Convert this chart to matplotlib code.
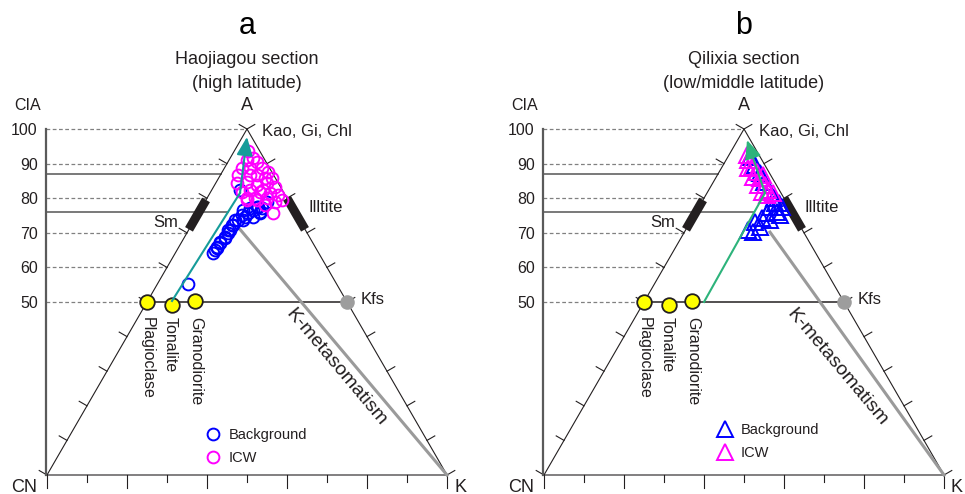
import matplotlib.pyplot as plt
import numpy as np

plt.rcParams['font.family'] = ['Liberation Sans', 'DejaVu Sans']

W, H = 965, 494
ink = '#231f20'

# CIA axis and reference lines (A in %)
tick_cia = [50, 60, 70, 80, 90, 100]
stage_cia = [87, 76]
sm_cia = [71, 79.5]      # smectite bar on the A-CN edge
ill_cia = [71, 80]       # illite bar on the A-K edge

# reference rocks, as (A, K) in %
rock_names = ['Plagioclase', 'Tonalite', 'Granodiorite']
rock_A = [50, 49.1, 50.4]
rock_K = [0, 6.7, 11.8]
kfs_A, kfs_K = 50, 50

# panel a, Haojiagou: Background circles
bg_a_A = [55.2, 64.1, 65.0, 65.5, 66.0, 67.0, 67.4, 68.4, 68.9, 69.9, 70.8, 70.8,
          72.3, 72.3, 73.7, 73.7, 73.7, 74.7, 74.7, 75.1, 75.6, 75.6, 76.1, 76.6,
          76.6, 77.1, 77.1, 77.5, 77.6, 79.0, 82.4]
bg_a_K = [7.6, 9.55, 9.5, 9.65, 9.4, 9.75, 9.55, 10.3, 10.05, 10.4, 10.35, 9.9,
          10.4, 10.0, 11.0, 12.2, 10.15, 12.1, 14.2, 11.1, 12.5, 15.4, 15.2, 13.3,
          10.8, 15.1, 12.2, 13.7, 14.0, 15.4, 7.05]
# panel a: ICW circles
icw_a_A = [93.6, 91.5, 91.0, 90.6, 88.6, 88.6, 88.6, 87.7, 86.7, 86.7, 85.75, 84.3,
           84.8, 83.8, 84.3, 83.3, 81.9, 82.4, 81.9, 81.4, 80.9, 79.5, 79.5, 80.0,
           79.0, 79.5, 78.0, 75.6, 86.7, 85.75, 82.4, 80.0, 80.0]
icw_a_K = [3.5, 5.85, 4.4, 7.1, 4.4, 6.45, 9.4, 11.45, 4.45, 9.05, 13.3, 5.25,
           7.5, 10.5, 12.75, 15.35, 7.75, 9.55, 12.3, 15.05, 17.35, 10.15, 12.65, 14.9,
           17.5, 19.05, 15.5, 18.8, 7.4, 11.6, 12.9, 12.0, 9.9]

# panel b, Qilixia: Background triangles
bg_b_A = [92.0, 89.6, 87.2, 84.8, 82.4, 80.0, 78.5, 77.5, 78.5, 77.5, 76.1, 75.6,
          74.2, 73.7, 73.2, 71.8, 70.8, 70.3, 75.1]
bg_b_K = [5.5, 7.9, 10.3, 12.7, 15.1, 17.5, 19.5, 20.65, 18.5, 17.75, 20.1, 17.9,
          17.3, 19.65, 16.15, 18.1, 15.7, 17.15, 21.5]
# panel b: ICW triangles
icw_b_A = [92.5, 91.0, 89.1, 88.6, 87.7, 86.2, 86.7, 85.75, 83.8, 83.8, 82.4, 81.9,
           81.4, 80.9]
icw_b_K = [4.5, 5.6, 7.35, 6.8, 9.35, 9.2, 11.45, 11.1, 11.7, 13.35, 14.9, 13.45,
           16.6, 15.25]

# weathering trend arrows (start, bend, tip) and K-metasomatism start, as (A, K)
trend_a = [(50.3, 6.1), (81.5, 7.5), (97.7, 1.15)]
trend_b = [(50, 15.0), (81.5, 14.5), (96.8, 2.35)]
kmeta_a = (71, 12.75)
kmeta_b = (70.2, 21.4)

SX, SY = 4.0, 3.46   # pixels per % along the base / along the height


def xy(A, K):
    A = np.asarray(A, float)
    K = np.asarray(K, float)
    return K + A / 2, A


def ftxt(px, py, s, **kw):
    kw.setdefault('color', ink)
    fig.text(px / W, 1 - py / H, s, **kw)


fig = plt.figure(figsize=(W / 100, H / 100), dpi=100)


def panel(left, right, cn_px, bg, icw, marker, ms, trend, kmeta, arrow_col):
    ax = fig.add_axes([left / W, 0, (right - left) / W, 1])
    ax.set_xlim((left - cn_px) / SX, (right - cn_px) / SX)
    ax.set_ylim((475 - H) / SY, 475 / SY)
    for s in ['top', 'right', 'bottom']:
        ax.spines[s].set_visible(False)
    ax.spines['left'].set_position(('data', -0.25))
    ax.spines['left'].set_bounds(0, 100)
    ax.spines['left'].set_color('#5a5a5a')
    ax.spines['left'].set_linewidth(1.6)
    ax.set_xticks([])
    ax.set_yticks(tick_cia)
    ax.tick_params(axis='y', length=0, pad=6, labelsize=11.5, labelcolor=ink)
    ax.patch.set_alpha(0)

    # triangle and ticks
    ax.plot([0, 100, 50, 0], [0, 0, 100, 0], color=ink, lw=0.8, zorder=2)
    for v in range(0, 101, 10):
        L = 13 if v % 20 == 0 else 7
        ax.plot([v, v], [0, -L / SY], color=ink, lw=0.8)
        Lt = 9
        ax.plot([v / 2, v / 2 - 0.866 * Lt / SX], [v, v + 0.5 * Lt / SY], color=ink, lw=0.8)
        ax.plot([100 - v / 2, 100 - v / 2 + 0.866 * Lt / SX], [v, v + 0.5 * Lt / SY],
                color=ink, lw=0.8)

    # CIA guide lines
    for c in tick_cia:
        ax.plot([-0.25, c / 2], [c, c], ls=(0, (3, 2)), color='#808080', lw=0.9, zorder=1)
    tx, ty = xy([p[0] for p in trend], [p[1] for p in trend])
    end76 = np.interp(stage_cia[1], ty[:2], tx[:2])
    ax.plot([-0.25, stage_cia[0] / 2], [stage_cia[0]] * 2, color='#6e6e6e', lw=1.3, zorder=1)
    ax.plot([-0.25, end76], [stage_cia[1]] * 2, color='#6e6e6e', lw=1.3, zorder=1)

    # Sm and Illite bars
    ax.plot(*xy(sm_cia, [0, 0]), color=ink, lw=6.5, solid_capstyle='butt', zorder=3)
    ax.plot(*xy(ill_cia, [100 - a for a in ill_cia]), color=ink, lw=6.5,
            solid_capstyle='butt', zorder=3)

    # plagioclase - Kfs join and K-metasomatism line
    p0 = xy(rock_A[0], rock_K[0])
    pk = xy(kfs_A, kfs_K)
    ax.plot([p0[0], pk[0]], [p0[1], pk[1]], color=ink, lw=1.1, zorder=2)
    km = xy(*kmeta)
    ax.plot([km[0], 100], [km[1], 0], color='#9a9a9a', lw=2.2, zorder=2)

    # samples
    bx, by = xy(*bg)
    h1, = ax.plot(bx, by, marker, ls='none', ms=ms, mfc='none', mec='#0000ff', mew=1.4,
                  label='Background', zorder=4)
    ix, iy = xy(*icw)
    h2, = ax.plot(ix, iy, marker, ls='none', ms=ms, mfc='none', mec='#ff00ff', mew=1.4,
                  label='ICW', zorder=4)

    # reference rocks
    rx, ry = xy(rock_A, rock_K)
    ax.plot(rx, ry, 'o', ls='none', ms=10.5, mfc='#ffff00', mec=ink, mew=1.3, zorder=5)
    ax.plot(pk[0], pk[1], 'o', ms=10.5, mfc='#9d9d9d', mec='none', zorder=5)

    # trend arrow
    ax.plot(tx[:2], ty[:2], color=arrow_col, lw=1.5, zorder=6)
    ax.annotate('', xy=(tx[2], ty[2]), xytext=(tx[1], ty[1]),
                arrowprops=dict(arrowstyle='-|>,head_length=0.8,head_width=0.35',
                                color=arrow_col, lw=1.5, shrinkA=0, shrinkB=0,
                                mutation_scale=14), zorder=6)
    return ax, [h1, h2]


ax_a, hands_a = panel(0, 482, 47, (bg_a_A, bg_a_K), (icw_a_A, icw_a_K), 'o', 8.5,
                      trend_a, kmeta_a, '#169c9a')
ax_b, hands_b = panel(482, 965, 544, (bg_b_A, bg_b_K), (icw_b_A, icw_b_K), '^', 11,
                      trend_b, kmeta_b, '#2db37b')

for ax, hands, lx, ly in [(ax_a, hands_a, 205.5, 428), (ax_b, hands_b, 717.5, 423)]:
    ax.legend(handles=hands, loc='upper left', bbox_to_anchor=(lx / W, 1 - ly / H),
              bbox_transform=fig.transFigure, frameon=False, fontsize=10.5,
              handlelength=1.0, handletextpad=0.6, labelspacing=0.65, borderpad=0,
              borderaxespad=0, labelcolor=ink)

# texts, placed in pixels
for cx, letter, l1, l2 in [(247, 'a', 'Haojiagou section', '(high latitude)'),
                           (744, 'b', 'Qilixia section', '(low/middle latitude)')]:
    off = cx - 247
    ftxt(cx, 26, letter, fontsize=22, ha='center', va='center', color='black')
    ftxt(cx, 60, l1, fontsize=13, ha='center', va='center')
    ftxt(cx, 83, l2, fontsize=13, ha='center', va='center')
    ftxt(cx - 219, 106, 'CIA', fontsize=11.5, ha='center', va='center')
    ftxt(cx, 106, 'A', fontsize=13, ha='center', va='center')
    ftxt(cx + 15, 131, 'Kao, Gi, Chl', fontsize=12, ha='left', va='center')
    ftxt(cx + 61, 208, 'Illtite', fontsize=12, ha='left', va='center')
    ftxt(cx - 69, 222, 'Sm', fontsize=12, ha='right', va='center')
    ftxt(cx + 114, 299, 'Kfs', fontsize=12, ha='left', va='center')
    for name, dx in zip(rock_names, [-100, -76.5, -51]):
        ftxt(cx + dx, 317, name, fontsize=11.5, rotation=-90, ha='center', va='top')
    ftxt(cx + 89 + (4 if off else 0), 367, 'K-metasomatism', fontsize=14, rotation=-50,
         ha='center', va='center', rotation_mode='anchor')
    ftxt(cx - 210, 487, 'CN', fontsize=13, ha='right', va='center')
    ftxt(cx + 213, 487, 'K', fontsize=13, ha='center', va='center')

fig.savefig('out.png', dpi=100)
